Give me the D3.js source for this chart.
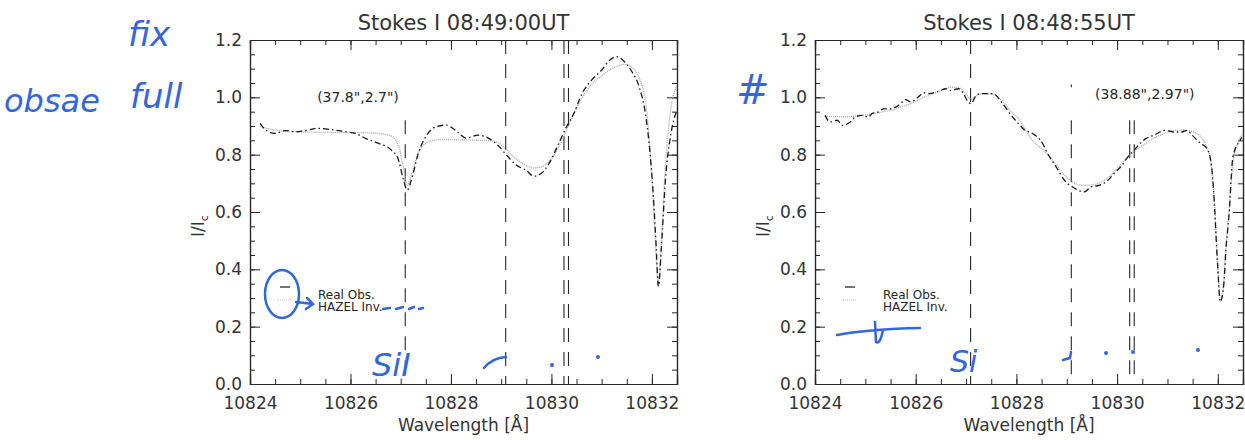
<!DOCTYPE html>
<html>
<head>
<meta charset="utf-8">
<script src="https://cdn.jsdelivr.net/npm/d3@7"></script>
<style>
  body { margin: 0; background: #fff; }
  svg { font-family: "DejaVu Sans", sans-serif; }
</style>
</head>
<body>
<div id="chart"></div>
<script>
// ---- data ----
const lineCenters = [10827.09, 10829.09, 10830.25, 10830.34];   // Si I, He I triplet
const xMajorTicks = [10824, 10826, 10828, 10830, 10832];
const yMajorTicks = [0.0, 0.2, 0.4, 0.6, 0.8, 1.0, 1.2];

// left panel, 08:49:00UT
const wlLeft = [10824.2, 10824.3, 10824.5, 10824.7, 10824.9, 10825.1, 10825.35, 10825.6, 10825.9, 10826.1,
  10826.3, 10826.55, 10826.8, 10826.95, 10827.05, 10827.13, 10827.23, 10827.35, 10827.5, 10827.7,
  10827.9, 10828.1, 10828.3, 10828.55, 10828.75, 10828.95, 10829.1, 10829.3, 10829.5, 10829.65,
  10829.8, 10829.95, 10830.1, 10830.3, 10830.45, 10830.6, 10830.8, 10831.0, 10831.15, 10831.3,
  10831.45, 10831.6, 10831.75, 10831.87, 10831.95, 10832.02, 10832.08, 10832.13, 10832.19, 10832.27,
  10832.37, 10832.5];
const obsLeft = [0.909, 0.888, 0.874, 0.884, 0.880, 0.884, 0.892, 0.888, 0.880, 0.874,
  0.857, 0.840, 0.818, 0.785, 0.715, 0.677, 0.723, 0.805, 0.863, 0.897,
  0.903, 0.884, 0.858, 0.868, 0.857, 0.830, 0.800, 0.764, 0.745, 0.725,
  0.735, 0.768, 0.822, 0.897, 0.945, 1.010, 1.060, 1.095, 1.128, 1.142,
  1.125, 1.090, 1.035, 0.944, 0.830, 0.680, 0.500, 0.340, 0.479, 0.712,
  0.863, 0.956];
const fitLeft = [0.900, 0.893, 0.886, 0.882, 0.880, 0.879, 0.878, 0.877, 0.877, 0.877,
  0.876, 0.874, 0.866, 0.835, 0.760, 0.695, 0.740, 0.805, 0.840, 0.851,
  0.853, 0.852, 0.851, 0.850, 0.849, 0.840, 0.818, 0.785, 0.762, 0.754,
  0.757, 0.775, 0.812, 0.886, 0.944, 0.995, 1.045, 1.075, 1.095, 1.108,
  1.115, 1.105, 1.065, 0.990, 0.850, 0.660, 0.460, 0.350, 0.500, 0.760,
  0.950, 1.040];

// right panel, 08:48:55UT
const wlRight = [10824.2, 10824.3, 10824.44, 10824.55, 10824.7, 10824.8, 10824.93, 10825.06, 10825.13, 10825.26,
  10825.36, 10825.5, 10825.6, 10825.7, 10825.8, 10825.9, 10826.05, 10826.16, 10826.26, 10826.49,
  10826.59, 10826.69, 10826.85, 10826.95, 10827.04, 10827.1, 10827.18, 10827.28, 10827.41, 10827.54,
  10827.7, 10827.9, 10828.04, 10828.17, 10828.29, 10828.52, 10828.62, 10828.79, 10828.98, 10829.11,
  10829.35, 10829.48, 10829.64, 10829.78, 10829.97, 10830.07, 10830.24, 10830.3, 10830.57, 10830.73,
  10830.96, 10831.13, 10831.29, 10831.39, 10831.49, 10831.66, 10831.76, 10831.86, 10831.92, 10831.99,
  10832.05, 10832.12, 10832.16, 10832.22, 10832.3, 10832.42, 10832.48];
const obsRight = [0.937, 0.914, 0.920, 0.902, 0.914, 0.931, 0.937, 0.931, 0.943, 0.949,
  0.960, 0.960, 0.966, 0.978, 0.992, 0.984, 1.001, 1.016, 1.013, 1.024,
  1.030, 1.024, 1.030, 1.013, 0.984, 0.978, 1.001, 1.013, 1.013, 1.013,
  0.984, 0.937, 0.908, 0.885, 0.877, 0.839, 0.804, 0.757, 0.705, 0.688,
  0.670, 0.688, 0.693, 0.705, 0.740, 0.757, 0.798, 0.809, 0.856, 0.868,
  0.885, 0.879, 0.879, 0.885, 0.868, 0.839, 0.827, 0.780, 0.664, 0.432,
  0.287, 0.351, 0.467, 0.583, 0.792, 0.844, 0.860];
const fitRight = [0.935, 0.933, 0.932, 0.932, 0.933, 0.935, 0.937, 0.940, 0.942, 0.946,
  0.950, 0.955, 0.960, 0.966, 0.972, 0.978, 0.990, 1.000, 1.007, 1.022,
  1.030, 1.035, 1.034, 1.022, 1.003, 0.993, 1.003, 1.011, 1.013, 1.010,
  0.990, 0.950, 0.926, 0.890, 0.855, 0.818, 0.800, 0.765, 0.724, 0.705,
  0.693, 0.694, 0.701, 0.715, 0.745, 0.765, 0.797, 0.806, 0.839, 0.858,
  0.875, 0.884, 0.886, 0.884, 0.881, 0.862, 0.835, 0.770, 0.660, 0.450,
  0.290, 0.360, 0.470, 0.600, 0.770, 0.850, 0.870];

// top of each vertical marker line (I/Ic)
const markerTopLeft = [0.92, 1.2, 1.2, 1.2];
const markerTopRight = [1.2, 0.92, 0.92, 0.92];

const panels = [
  { left: 250, right: 677, title: "Stokes I 08:49:00UT", label: "(37.8\",2.7\")", labelAt: [10826.15, 1.0],
    wl: wlLeft, obs: obsLeft, fit: fitLeft, markerTop: markerTopLeft },
  { left: 815, right: 1243, title: "Stokes I 08:48:55UT", label: "(38.88\",2.97\")", labelAt: [10830.55, 1.01],
    wl: wlRight, obs: obsRight, fit: fitRight, markerTop: markerTopRight }
];

const plotTop = 40, plotBottom = 384;
const ink = "#262626";

const svg = d3.select("#chart").append("svg")
  .attr("width", 1245).attr("height", 440);

panels.forEach((p, pi) => {
  const x = d3.scaleLinear().domain([10824, 10832.5]).range([p.left, p.right]);
  const y = d3.scaleLinear().domain([0, 1.2]).range([plotBottom, plotTop]);
  const g = svg.append("g");

  // axes on all four sides, ticks pointing inwards
  const xMinor = d3.range(10824, 10832.51, 0.5);
  const yMinor = d3.range(0, 1.2001, 0.05);
  const fmtX = d3.format("d"), fmtY = d3.format(".1f");

  g.append("g").attr("transform", `translate(0,${plotBottom})`)
    .call(d3.axisBottom(x).tickValues(xMinor).tickSize(-5).tickFormat(""));
  g.append("g").attr("transform", `translate(0,${plotBottom})`)
    .call(d3.axisBottom(x).tickValues(xMajorTicks).tickSize(-10).tickPadding(13).tickFormat(fmtX));
  g.append("g").attr("transform", `translate(0,${plotTop})`)
    .call(d3.axisTop(x).tickValues(xMinor).tickSize(-5).tickFormat(""));
  g.append("g").attr("transform", `translate(0,${plotTop})`)
    .call(d3.axisTop(x).tickValues(xMajorTicks).tickSize(-10).tickFormat(""));
  g.append("g").attr("transform", `translate(${p.left},0)`)
    .call(d3.axisLeft(y).tickValues(yMinor).tickSize(-5).tickFormat(""));
  g.append("g").attr("transform", `translate(${p.left},0)`)
    .call(d3.axisLeft(y).tickValues(yMajorTicks).tickSize(-10).tickPadding(8).tickFormat(fmtY));
  g.append("g").attr("transform", `translate(${p.right},0)`)
    .call(d3.axisRight(y).tickValues(yMinor).tickSize(-5).tickFormat(""));
  g.append("g").attr("transform", `translate(${p.right},0)`)
    .call(d3.axisRight(y).tickValues(yMajorTicks).tickSize(-10).tickFormat(""));

  g.selectAll(".domain").attr("stroke", ink).attr("stroke-width", 1.2);
  g.selectAll(".tick line").attr("stroke", ink).attr("stroke-width", 1);
  g.selectAll(".tick text").attr("fill", "#333").attr("font-size", 17)
    .attr("font-family", "DejaVu Sans, sans-serif");

  // vertical markers at line centres
  g.selectAll(".marker").data(lineCenters).enter().append("line")
    .attr("x1", d => x(d)).attr("x2", d => x(d))
    .attr("y1", (d, i) => y(p.markerTop[i])).attr("y2", plotBottom)
    .attr("stroke", ink).attr("stroke-width", 1.1)
    .attr("stroke-dasharray", "14,10");
  if (pi === 1) {
    // stray dash above the He I 10829 marker in the right panel
    g.append("line").attr("x1", x(lineCenters[1])).attr("x2", x(lineCenters[1]))
      .attr("y1", y(1.045)).attr("y2", y(1.035)).attr("stroke", ink).attr("stroke-width", 1.1);
  }

  const line = d3.line()
    .x((d, i) => x(p.wl[i])).y(d => y(d))
    .curve(d3.curveMonotoneX);

  // HAZEL inversion: light dotted
  g.append("path").datum(p.fit)
    .attr("d", line).attr("fill", "none")
    .attr("stroke", "#a8a8a8").attr("stroke-width", 1.4)
    .attr("stroke-dasharray", "1,1");
  // real observation: dark dash-dot
  g.append("path").datum(p.obs)
    .attr("d", line).attr("fill", "none")
    .attr("stroke", "#1a1a1a").attr("stroke-width", 1.3)
    .attr("stroke-dasharray", "6,3,1.5,3");

  // titles
  const cx = (p.left + p.right) / 2;
  svg.append("text").attr("x", cx).attr("y", 30).attr("text-anchor", "middle")
    .attr("font-size", 21).attr("fill", "#333").text(p.title);
  svg.append("text").attr("x", cx).attr("y", 431).attr("text-anchor", "middle")
    .attr("font-size", 17).attr("fill", "#333").text("Wavelength [Å]");
  const yl = svg.append("text")
    .attr("transform", `translate(${p.left - 46},226) rotate(-90)`)
    .attr("text-anchor", "middle").attr("font-size", 17).attr("fill", "#333");
  yl.append("tspan").text("I/I");
  yl.append("tspan").attr("font-size", 11).attr("dy", 4).text("c");

  // position label
  svg.append("text").attr("x", x(p.labelAt[0])).attr("y", y(p.labelAt[1]) + 5)
    .attr("text-anchor", "middle").attr("font-size", 14).attr("fill", ink).text(p.label);

  // legend
  const lx = p.left + 30;
  g.append("line").attr("x1", lx).attr("x2", lx + 10).attr("y1", 287).attr("y2", 287)
    .attr("stroke", "#1a1a1a").attr("stroke-width", 1.2);
  g.append("line").attr("x1", lx - 2).attr("x2", lx + 12).attr("y1", 300).attr("y2", 300)
    .attr("stroke", "#bbb").attr("stroke-width", 1).attr("stroke-dasharray", "1,1");
  g.append("text").attr("x", p.left + 68).attr("y", 299).attr("font-size", 12)
    .attr("fill", ink).text("Real Obs.");
  g.append("text").attr("x", p.left + 68).attr("y", 311).attr("font-size", 12)
    .attr("fill", ink).text("HAZEL Inv.");
});

// ---- blue pen annotations scribbled on the scan ----
const pen = "#3366dd";
const notes = svg.append("g").attr("fill", pen).attr("font-style", "italic")
  .attr("font-family", "DejaVu Sans, sans-serif");
notes.append("text").attr("x", 128).attr("y", 46).attr("font-size", 34).text("fix");
notes.append("text").attr("x", 130).attr("y", 108).attr("font-size", 34).text("full");
notes.append("text").attr("x", 4).attr("y", 112).attr("font-size", 32).text("obsae");
notes.append("text").attr("x", 372).attr("y", 376).attr("font-size", 32).text("SiI");
notes.append("text").attr("x", 736).attr("y", 104).attr("font-size", 40).text("#");
notes.append("text").attr("x", 950).attr("y", 372).attr("font-size", 30).text("Si");

const strokes = svg.append("g").attr("fill", "none").attr("stroke", pen)
  .attr("stroke-width", 2.5).attr("stroke-linecap", "round");
strokes.append("ellipse").attr("cx", 282).attr("cy", 294).attr("rx", 17).attr("ry", 24);
strokes.append("path").attr("d", "M296,302 L313,304 M307,298 L313,304 L306,309");
strokes.append("path").attr("d", "M383,309 L390,308 M396,309 L403,307 M409,309 L414,307 M419,309 L423,308");
strokes.append("path").attr("d", "M484,368 Q492,358 506,357");
strokes.append("path").attr("d", "M837,335 Q870,329 920,328 M875,322 L876,342 Q880,345 883,330");
strokes.append("path").attr("d", "M1063,360 L1070,358 L1071,352");
svg.append("g").attr("fill", pen).selectAll("circle")
  .data([[552, 365], [598, 357], [1106, 353], [1133, 352], [1198, 350]])
  .enter().append("circle").attr("cx", d => d[0]).attr("cy", d => d[1]).attr("r", 2);
</script>
</body>
</html>
